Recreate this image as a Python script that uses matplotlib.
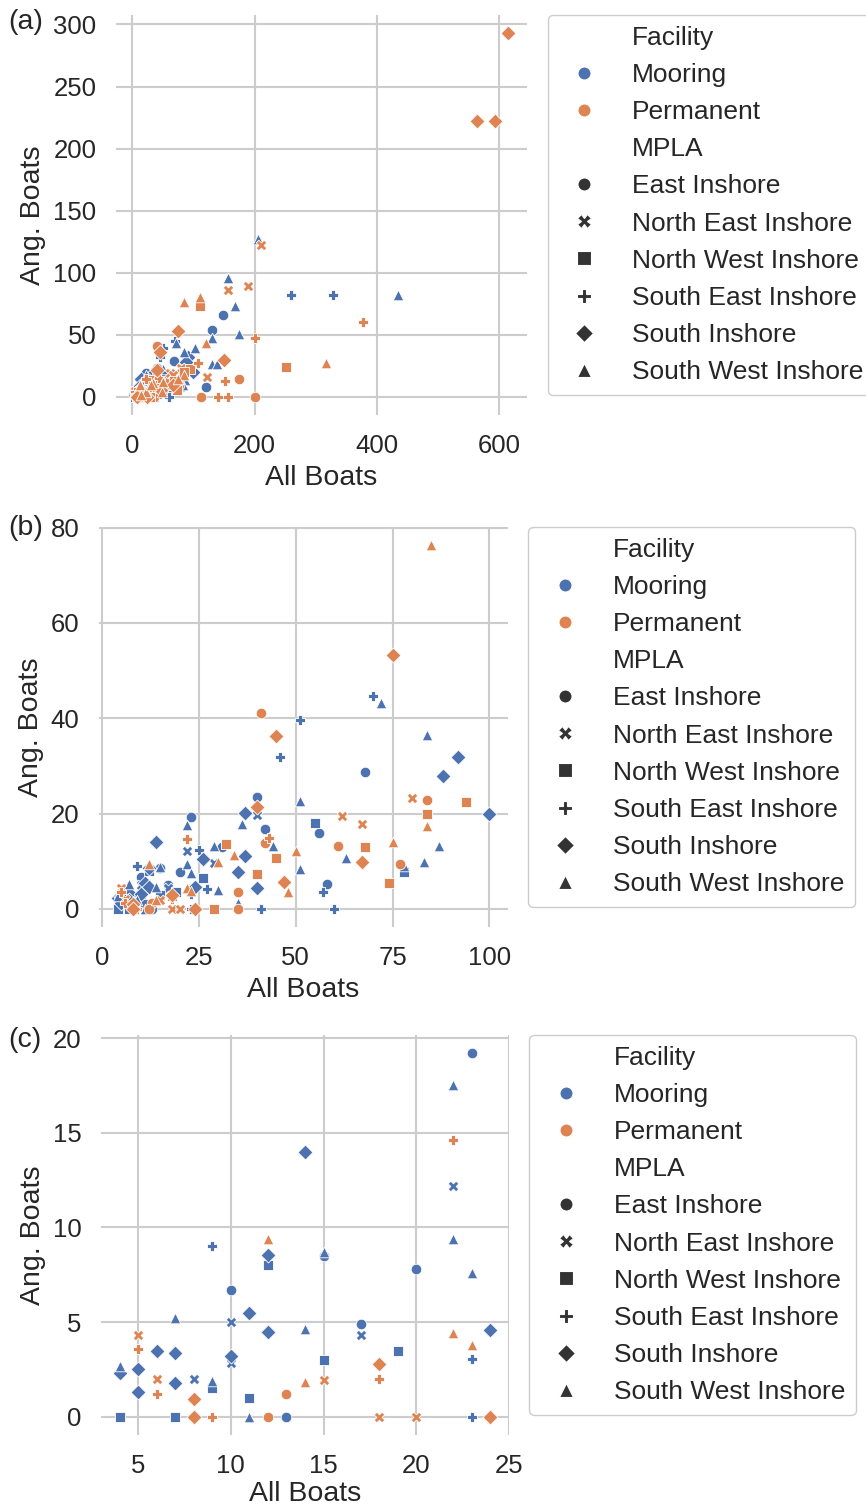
import matplotlib
matplotlib.use("Agg")
import matplotlib.pyplot as plt
from matplotlib.lines import Line2D
import seaborn as sns
import pandas as pd

sns.set_style("whitegrid")
plt.rcParams["font.family"] = ["Liberation Sans", "DejaVu Sans"]
plt.rcParams["text.color"] = ".15"
plt.rcParams["axes.labelcolor"] = ".15"
plt.rcParams["xtick.color"] = ".15"
plt.rcParams["ytick.color"] = ".15"

facilities = ["Mooring", "Permanent"]
mplas = ["East Inshore", "North East Inshore", "North West Inshore",
         "South East Inshore", "South Inshore", "South West Inshore"]
markers = ["o", "X", "s", "P", "D", "^"]
colors = sns.color_palette("deep")[:2]

# (All Boats, Ang. Boats) for each facility / MPLA pair
mooring_e = [(23, 19.2), (20, 7.8), (10, 6.7), (15, 8.5), (17, 4.9), (13, 0),
             (68, 28.7), (40, 23.4), (42, 16.7), (56, 16.0), (58, 5.3), (31, 12.9),
             (148, 66), (130, 53.5), (120, 8)]
mooring_ne = [(22, 12.2), (10, 5.0), (17, 4.3), (10, 2.85), (8, 2.0),
              (40, 19.75), (29, 9.7)]
mooring_nw = [(12, 8.0), (15, 3.0), (19, 3.45), (9, 1.5), (11, 1.0), (4, 0), (7, 0),
              (55, 18.1), (78, 7.7), (26, 6.4)]
mooring_se = [(9, 9.0), (23, 3.06), (23, 0),
              (70, 44.7), (51, 39.6), (46, 31.8), (57, 3.6), (41, 0), (60, 0),
              (27, 4.2), (25, 12.3),
              (259, 82), (329, 82)]
mooring_s = [(14, 14.0), (12, 8.57), (11, 5.5), (12, 4.5), (6, 3.45), (7, 3.38),
             (10, 3.2), (24, 4.57), (4, 2.32), (5, 2.53), (5, 1.3), (7, 1.79),
             (92, 31.8), (88, 27.9), (37, 20.1), (100, 20.0), (26, 10.4), (37, 11.0),
             (35, 7.8), (40, 4.4)]
mooring_sw = [(22, 17.5), (22, 9.4), (23, 7.6), (7, 5.2), (14, 4.64), (4, 2.67),
              (9, 1.9), (11, 0), (15, 8.7),
              (72, 43.1), (84, 36.4), (51, 22.7), (36, 17.8), (44, 13.1), (29, 13.1),
              (87, 13.2), (63, 10.6), (78, 8.9), (83, 9.9), (51, 8.3), (35, 1.3),
              (30, 3.9),
              (205, 127), (156, 96), (435, 82), (168, 73), (175, 50.5), (102, 39),
              (131, 26.5), (138, 26.5), (130, 47)]

permanent_e = [(13, 1.2), (12, 0),
               (41, 41.0), (84, 22.8), (42, 13.9), (61, 13.2), (77, 9.35), (35, 3.6),
               (35, 0),
               (175, 14), (112, 0), (200, 0)]
permanent_ne = [(5, 4.3), (6, 2.0), (15, 1.92), (18, 0), (20, 0),
                (80, 23.3), (62, 19.4), (67, 17.8),
                (210, 122), (156, 86), (189, 89), (123, 16)]
permanent_nw = [(94, 22.5), (84, 19.9), (32, 13.6), (68, 13.0), (45, 10.6), (40, 7.4),
                (74, 5.5), (29, 0),
                (252, 24), (111, 73.5)]
permanent_se = [(22, 14.6), (5, 3.6), (6, 1.23), (18, 2.0), (9, 0),
                (43, 14.8),
                (377, 60), (200, 47), (107, 27), (151, 12.6), (140, 0), (156, 0)]
permanent_s = [(18, 2.8), (8, 0.93), (8, 0), (24, 0),
               (75, 53.3), (45, 36.3), (40, 21.4), (67, 9.9), (47, 5.7),
               (615, 293), (563, 222), (593, 222), (150, 30)]
permanent_sw = [(12, 9.4), (22, 4.4), (23, 3.8), (14, 1.86),
                (85, 76.3), (84, 17.4), (75, 14.1), (50, 12.2), (34, 11.2), (30, 9.8),
                (48, 3.6),
                (317, 27), (120, 43), (111, 80.5)]

groups = {
    ("Mooring", "East Inshore"): mooring_e,
    ("Mooring", "North East Inshore"): mooring_ne,
    ("Mooring", "North West Inshore"): mooring_nw,
    ("Mooring", "South East Inshore"): mooring_se,
    ("Mooring", "South Inshore"): mooring_s,
    ("Mooring", "South West Inshore"): mooring_sw,
    ("Permanent", "East Inshore"): permanent_e,
    ("Permanent", "North East Inshore"): permanent_ne,
    ("Permanent", "North West Inshore"): permanent_nw,
    ("Permanent", "South East Inshore"): permanent_se,
    ("Permanent", "South Inshore"): permanent_s,
    ("Permanent", "South West Inshore"): permanent_sw,
}

rows = []
for (fac, area), pts in groups.items():
    for a, b in pts:
        rows.append({"All Boats": a, "Ang. Boats": b, "Facility": fac, "MPLA": area})
df = pd.DataFrame(rows)


def legend_handles():
    h = [Line2D([], [], ls="", label="Facility")]
    for f, c in zip(facilities, colors):
        h.append(Line2D([], [], ls="", marker="o", ms=9.4, mfc=c, mec="white",
                        mew=0.8, label=f))
    h.append(Line2D([], [], ls="", label="MPLA"))
    for name, m in zip(mplas, markers):
        h.append(Line2D([], [], ls="", marker=m, ms=9.4, mfc=".2", mec="white",
                        mew=0.8, label=name))
    return h


def draw(ax, data, yticks, xpad=5):
    for fac, c in zip(facilities, colors):
        for area, m in zip(mplas, markers):
            sub = data[(data["Facility"] == fac) & (data["MPLA"] == area)]
            ax.scatter(sub["All Boats"], sub["Ang. Boats"], s=58, marker=m,
                       color=c, edgecolor="white", linewidth=0.6, zorder=3)
    ax.set_yticks(yticks)
    ax.grid(True, color=".8", lw=1.5)
    for sp in ax.spines.values():
        sp.set_visible(False)
    ax.tick_params(length=0, pad=14, labelsize=18.5)
    ax.set_xlabel("All Boats", fontsize=20.5, labelpad=xpad)
    ax.set_ylabel("Ang. Boats", fontsize=20.5, labelpad=5)
    ax.legend(handles=legend_handles(), bbox_to_anchor=(1.05, 1), loc="upper left",
              borderaxespad=0, fontsize=19, frameon=True, edgecolor=".8",
              facecolor="white", framealpha=1)


fig = plt.figure(figsize=(8.66, 15.08), dpi=100)
W, H = 866, 1508

ax1 = fig.add_axes([116 / W, 1 - 415 / H, 411 / W, 400 / H])
draw(ax1, df, [0, 50, 100, 150, 200, 250, 300])
ax1.set_xticks([0, 200, 400, 600])

ax2 = fig.add_axes([99 / W, 1 - 927 / H, 409 / W, 400 / H])
draw(ax2, df[df["All Boats"] <= 100], [0, 20, 40, 60, 80])
ax2.set_xticks([0, 25, 50, 75, 100])

ax3 = fig.add_axes([101 / W, 1 - 1435 / H, 408 / W, 400 / H])
draw(ax3, df[df["All Boats"] < 25], [0, 5, 10, 15, 20], xpad=2)
ax3.set_xticks([5, 10, 15, 20, 25])

for lab, ypx in [("(a)", 22), ("(b)", 528), ("(c)", 1040)]:
    fig.text(8 / W, 1 - ypx / H, lab, fontsize=20.5, va="center", ha="left")

fig.savefig("out.png", dpi=100)
